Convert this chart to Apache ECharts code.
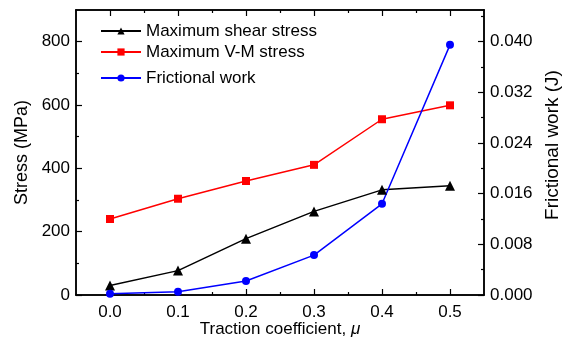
<!DOCTYPE html>
<html>
<head>
<meta charset="utf-8">
<script src="https://cdn.jsdelivr.net/npm/echarts@6/dist/echarts.min.js"></script>
<style>
  html, body { margin: 0; padding: 0; background: #fff; }
  #chart { width: 563px; height: 340px; }
</style>
</head>
<body>
<div id="chart"></div>
<script>
// Traction coefficient values (x)
const mu = [0.0, 0.1, 0.2, 0.3, 0.4, 0.5];
// Stresses in MPa (left axis)
const shearStress = [30, 77, 178, 264, 332, 345];
const vmStress = [240, 304, 360, 411, 555, 599];
// Frictional work in J (right axis)
const frictionalWork = [0.0002, 0.0005, 0.0022, 0.0063, 0.0144, 0.0395];

// Series names shown in the legend
const seriesNames = ['Maximum shear stress', 'Maximum V-M stress', 'Frictional work'];

// Tick positions
const xMajor = [0, 0.1, 0.2, 0.3, 0.4, 0.5];
const xMinor = [0.05, 0.15, 0.25, 0.35, 0.45];
const yMajor = [0, 200, 400, 600, 800];
const yMinor = [100, 300, 500, 700];
const wMajor = [0, 0.008, 0.016, 0.024, 0.032, 0.040];
const wMinor = [0.004, 0.012, 0.020, 0.028, 0.036, 0.044];

const FONT = 'Liberation Sans, Arial, sans-serif';
const line = { show: true, onZero: false, lineStyle: { color: '#000', width: 1.5 } };

function pairs(xs, ys) { return xs.map((x, i) => [x, ys[i]]); }

function xAxisDef(position, ticks, len, labels, extra) {
  return Object.assign({
    type: 'value', position: position, min: -0.05, max: 0.55,
    axisLine: line, splitLine: { show: false },
    axisTick: { show: true, inside: true, length: len, customValues: ticks, lineStyle: { color: '#000', width: 1.2 } },
    axisLabel: labels ? { show: true, customValues: labels, margin: 9, color: '#000', fontSize: 17, fontFamily: FONT, formatter: v => v.toFixed(1) } : { show: false }
  }, extra || {});
}

function yAxisDef(position, min, max, ticks, len, labels, fmt, extra) {
  return Object.assign({
    type: 'value', position: position, min: min, max: max,
    axisLine: line, splitLine: { show: false },
    axisTick: { show: true, inside: true, length: len, customValues: ticks, lineStyle: { color: '#000', width: 1.2 } },
    axisLabel: labels ? { show: true, customValues: labels, margin: 6, color: '#000', fontSize: 17, fontFamily: FONT, formatter: fmt } : { show: false }
  }, extra || {});
}

// One legend row per series so each row sits at its own height
const legendTops = [22, 43, 69];
const legends = seriesNames.map((name, i) => ({
  orient: 'vertical', left: 100, top: legendTops[i], padding: 0,
  itemWidth: 40, itemHeight: 9,
  textStyle: { color: '#000', fontSize: 17, lineHeight: 18, fontFamily: FONT },
  data: [name]
}));

const chart = echarts.init(document.getElementById('chart'), null, { renderer: 'canvas' });

chart.setOption({
  animation: false,
  backgroundColor: '#fff',
  grid: { left: 76, right: 79, top: 10, bottom: 45, containLabel: false, outerBoundsMode: 'none' },
  legend: legends,
  xAxis: [
    xAxisDef('bottom', xMajor, 6, xMajor, {
      name: 'Traction coefficient, {i|μ}', nameLocation: 'middle', nameGap: 26, nameMoveOverlap: false,
      nameTextStyle: { color: '#000', fontSize: 17, fontFamily: FONT,
        rich: { i: { fontStyle: 'italic', fontSize: 17, fontFamily: FONT, color: '#000' } } }
    }),
    xAxisDef('bottom', xMinor, 3, null),
    xAxisDef('top', xMajor, 6, null),
    xAxisDef('top', xMinor, 3, null)
  ],
  yAxis: [
    yAxisDef('left', 0, 900, yMajor, 6, yMajor, v => String(v), {
      name: 'Stress (MPa)', nameLocation: 'middle', nameGap: 45,
      nameTextStyle: { color: '#000', fontSize: 18, fontFamily: FONT }
    }),
    yAxisDef('left', 0, 900, yMinor, 3, null),
    yAxisDef('right', 0, 0.045, wMajor, 6, wMajor, v => v.toFixed(3), {
      name: 'Frictional work (J)', nameLocation: 'middle', nameGap: 57,
      nameTextStyle: { color: '#000', fontSize: 19, fontFamily: FONT, padding: [0, 0, 0, 15] }
    }),
    yAxisDef('right', 0, 0.045, wMinor, 3, null)
  ],
  series: [
    {
      name: seriesNames[0], type: 'line', xAxisIndex: 0, yAxisIndex: 0,
      data: pairs(mu, shearStress), symbol: 'triangle', symbolSize: 10,
      lineStyle: { color: '#000', width: 1.5 }, itemStyle: { color: '#000' }
    },
    {
      name: seriesNames[1], type: 'line', xAxisIndex: 0, yAxisIndex: 0,
      data: pairs(mu, vmStress), symbol: 'rect', symbolSize: 8,
      lineStyle: { color: '#ff0000', width: 1.5 }, itemStyle: { color: '#ff0000' }
    },
    {
      name: seriesNames[2], type: 'line', xAxisIndex: 0, yAxisIndex: 2,
      data: pairs(mu, frictionalWork), symbol: 'circle', symbolSize: 8,
      lineStyle: { color: '#0000ff', width: 1.5 }, itemStyle: { color: '#0000ff' }
    }
  ]
});
</script>
</body>
</html>
